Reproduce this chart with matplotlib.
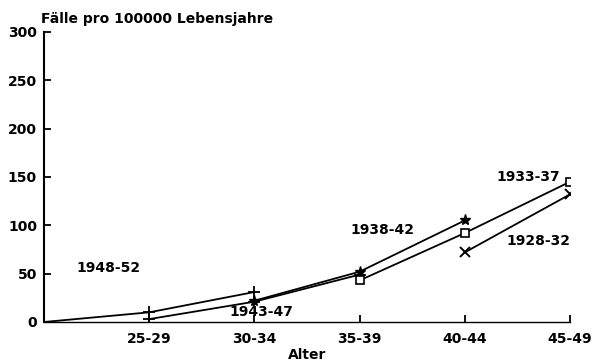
import matplotlib.pyplot as plt

# Altersgruppen (Position 0 = 20-24, ohne Beschriftung)
age_labels = ["25-29", "30-34", "35-39", "40-44", "45-49"]

# Geburtskohorten: Altersposition und Fälle pro 100000 Lebensjahre
c1948_x = [0, 1, 2]
c1948_y = [0, 10, 31]
c1943_x = [1, 2, 3]
c1943_y = [3, 21, 49]
c1938_x = [2, 3, 4]
c1938_y = [22, 52, 105]
c1933_x = [3, 4, 5]
c1933_y = [43, 92, 145]
c1928_x = [4, 5]
c1928_y = [72, 132]

plt.rcParams['font.family'] = ['DejaVu Sans']
plt.rcParams['font.weight'] = 'bold'
plt.rcParams['axes.labelweight'] = 'bold'

fig = plt.figure(figsize=(5.93, 3.64), dpi=100)
ax = fig.add_axes([0.0742, 0.1154, 0.887, 0.797])

lw = 1.3
ax.plot(c1948_x, c1948_y, color='black', lw=lw, marker='+', ms=8, mew=1.3)
ax.plot(c1943_x, c1943_y, color='black', lw=lw, marker='+', ms=8, mew=1.3)
ax.plot(c1938_x, c1938_y, color='black', lw=lw, marker='*', ms=8, mfc='black')
ax.plot(c1933_x, c1933_y, color='black', lw=lw, marker='s', ms=6, mfc='white', mew=1.2)
ax.plot(c1928_x, c1928_y, color='black', lw=lw, marker='x', ms=7, mew=1.4)

# Kohortenbeschriftungen
fs = 10
ax.text(0.61, 56, "1948-52", ha='center', va='center', fontsize=fs)
ax.text(2.07, 10, "1943-47", ha='center', va='center', fontsize=fs)
ax.text(3.22, 95, "1938-42", ha='center', va='center', fontsize=fs)
ax.text(4.6, 150, "1933-37", ha='center', va='center', fontsize=fs)
ax.text(4.7, 84, "1928-32", ha='center', va='center', fontsize=fs)

ax.set_xlim(0, 5)
ax.set_ylim(0, 300)
ax.set_xticks([1, 2, 3, 4, 5])
ax.set_xticklabels(age_labels)
ax.set_yticks([0, 50, 100, 150, 200, 250, 300])

for side in ['top', 'right']:
    ax.spines[side].set_visible(False)
ax.spines['left'].set_linewidth(1.5)
ax.spines['bottom'].set_linewidth(1.0)

ax.tick_params(axis='both', direction='in', length=5, width=1.3, labelsize=fs)
ax.tick_params(axis='y', pad=5)
ax.tick_params(axis='x', pad=7)

ax.set_xlabel("Alter", fontsize=fs, labelpad=2)
ax.text(-0.005, 1.02, "Fälle pro 100000 Lebensjahre", transform=ax.transAxes,
        ha='left', va='bottom', fontsize=fs)

fig.savefig("out.png", dpi=100)
